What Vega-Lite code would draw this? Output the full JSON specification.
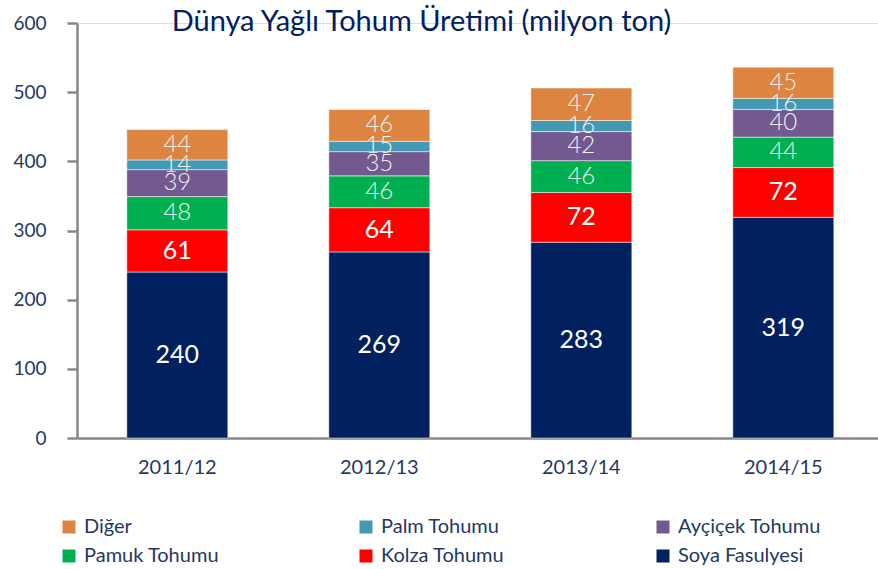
{
  "$schema": "https://vega.github.io/schema/vega-lite/v6.json",
  "width": 801,
  "height": 415,
  "autosize": {"type": "none"},
  "padding": {"left": 77, "top": 23, "right": 0, "bottom": 131},
  "background": "white",
  "title": {
    "text": "Dünya Yağlı Tohum Üretimi (milyon ton)",
    "font": "Lato",
    "fontSize": 29,
    "fontWeight": "normal",
    "color": "#002060",
    "anchor": "middle",
    "frame": "group",
    "baseline": "alphabetic",
    "offset": 0,
    "dx": -56,
    "dy": 46
  },
  "data": {
    "values": [
      {"year": "2011/12", "series": "Soya Fasulyesi", "value": 240, "ord": 1},
      {"year": "2011/12", "series": "Kolza Tohumu", "value": 61, "ord": 2},
      {"year": "2011/12", "series": "Pamuk Tohumu", "value": 48, "ord": 3},
      {"year": "2011/12", "series": "Ayçiçek Tohumu", "value": 39, "ord": 4},
      {"year": "2011/12", "series": "Palm Tohumu", "value": 14, "ord": 5},
      {"year": "2011/12", "series": "Diğer", "value": 44, "ord": 6},
      {"year": "2012/13", "series": "Soya Fasulyesi", "value": 269, "ord": 1},
      {"year": "2012/13", "series": "Kolza Tohumu", "value": 64, "ord": 2},
      {"year": "2012/13", "series": "Pamuk Tohumu", "value": 46, "ord": 3},
      {"year": "2012/13", "series": "Ayçiçek Tohumu", "value": 35, "ord": 4},
      {"year": "2012/13", "series": "Palm Tohumu", "value": 15, "ord": 5},
      {"year": "2012/13", "series": "Diğer", "value": 46, "ord": 6},
      {"year": "2013/14", "series": "Soya Fasulyesi", "value": 283, "ord": 1},
      {"year": "2013/14", "series": "Kolza Tohumu", "value": 72, "ord": 2},
      {"year": "2013/14", "series": "Pamuk Tohumu", "value": 46, "ord": 3},
      {"year": "2013/14", "series": "Ayçiçek Tohumu", "value": 42, "ord": 4},
      {"year": "2013/14", "series": "Palm Tohumu", "value": 16, "ord": 5},
      {"year": "2013/14", "series": "Diğer", "value": 47, "ord": 6},
      {"year": "2014/15", "series": "Soya Fasulyesi", "value": 319, "ord": 1},
      {"year": "2014/15", "series": "Kolza Tohumu", "value": 72, "ord": 2},
      {"year": "2014/15", "series": "Pamuk Tohumu", "value": 44, "ord": 3},
      {"year": "2014/15", "series": "Ayçiçek Tohumu", "value": 40, "ord": 4},
      {"year": "2014/15", "series": "Palm Tohumu", "value": 16, "ord": 5},
      {"year": "2014/15", "series": "Diğer", "value": 45, "ord": 6}
    ]
  },
  "encoding": {
    "x": {
      "field": "year",
      "type": "nominal",
      "sort": null,
      "scale": {"paddingInner": 0.5, "paddingOuter": 0.2327, "align": 0.53},
      "axis": {
        "title": null,
        "labelAngle": 0,
        "labelFont": "Lato",
        "labelFontSize": 20,
        "labelColor": "#1F3864",
        "labelPadding": 19,
        "ticks": false,
        "domainColor": "#888888",
        "domainWidth": 2.5
      }
    },
    "y": {
      "field": "value",
      "type": "quantitative",
      "stack": "zero",
      "scale": {"domain": [0, 600], "nice": false},
      "axis": {
        "title": null,
        "values": [0, 100, 200, 300, 400, 500, 600],
        "grid": false,
        "labelFont": "Lato",
        "labelFontSize": 19,
        "labelColor": "#1F3864",
        "labelPadding": 21,
        "tickSize": 10,
        "tickColor": "#888888",
        "tickWidth": 2.5,
        "domainColor": "#888888",
        "domainWidth": 2.5
      }
    },
    "order": {"field": "ord", "type": "quantitative"}
  },
  "layer": [
    {
      "mark": {"type": "bar", "stroke": "#FFFFFF", "strokeWidth": 1, "strokeOpacity": 0.5},
      "encoding": {
        "color": {
          "field": "series",
          "type": "nominal",
          "scale": {
            "domain": ["Diğer", "Palm Tohumu", "Ayçiçek Tohumu", "Pamuk Tohumu", "Kolza Tohumu", "Soya Fasulyesi"],
            "range": ["#DC8440", "#4399B1", "#72598F", "#00B050", "#FF0000", "#002060"]
          },
          "legend": {
            "title": null,
            "orient": "none",
            "legendX": -18,
            "legendY": 494,
            "direction": "horizontal",
            "columns": 3,
            "gridAlign": "all",
            "columnPadding": 129,
            "rowPadding": 9,
            "symbolType": "square",
            "symbolSize": 169,
            "symbolStrokeWidth": 0,
            "labelFont": "Lato",
            "labelFontSize": 20,
            "labelColor": "#1F3864",
            "labelOffset": 5,
            "labelLimit": 300
          }
        }
      }
    },
    {
      "mark": {"type": "text", "font": "Lato", "fontSize": 25, "color": "#FFFFFF", "baseline": "middle"},
      "encoding": {
        "y": {"field": "value", "type": "quantitative", "stack": "zero", "bandPosition": 0.5},
        "text": {"field": "value", "type": "quantitative"},
        "opacity": {"condition": {"test": "datum.ord <= 2", "value": 1}, "value": 0}
      }
    },
    {
      "mark": {"type": "text", "font": "Lato", "fontSize": 24, "fontWeight": 300, "color": "#F2F2F2", "baseline": "middle"},
      "encoding": {
        "y": {"field": "value", "type": "quantitative", "stack": "zero", "bandPosition": 0.5},
        "text": {"field": "value", "type": "quantitative"},
        "opacity": {"condition": {"test": "datum.ord > 2", "value": 1}, "value": 0}
      }
    }
  ]
}
